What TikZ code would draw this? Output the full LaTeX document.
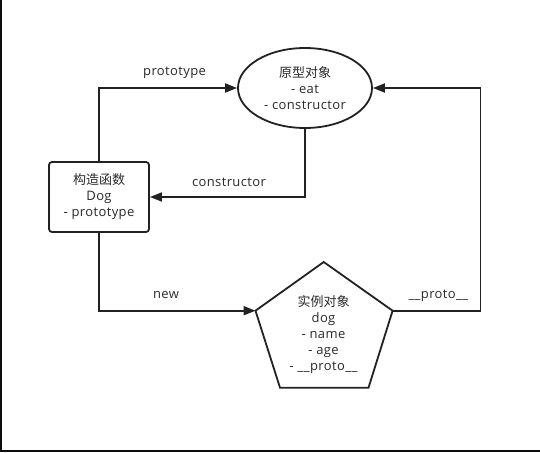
\documentclass[tikz,border=0pt]{standalone}
\usepackage{fontspec}
\setmainfont{Open Sans}[LetterSpace=3]
\newfontfamily\cjk{Noto Sans CJK SC}
\usetikzlibrary{arrows.meta,shapes.geometric}
\definecolor{ink}{HTML}{222222}
\definecolor{txt}{HTML}{2a2a2a}
\tikzset{
  every node/.style={font=\fontsize{13}{16}\selectfont, text=txt},
  shapeline/.style={draw=ink, line width=1.8pt},
  conn/.style={draw=ink, line width=1.8pt, -{Triangle[length=12pt,width=9pt]}},
  lbl/.style={inner sep=0pt}
}
\begin{document}
\begin{tikzpicture}[x=1pt,y=-1pt]
\useasboundingbox (0,0) rectangle (540,452);
\fill[white] (0,0) rectangle (540,452);
\fill[black!95] (0,0) rectangle (1.5,452);
\fill[black!95] (0,449.5) rectangle (540,452);

% prototype object
\node[shapeline, ellipse, minimum width=134pt, minimum height=80pt, inner sep=0pt, align=center]
  (proto) at (305,88) {{\cjk 原型对象}\\- eat\\- constructor};

% constructor
\node[shapeline, rectangle, rounded corners=3pt, minimum width=100pt, minimum height=70pt, inner sep=0pt, align=center]
  (ctor) at (99,197) {{\cjk 构造函数}\\Dog\\- prototype};

% instance pentagon
\coordinate (pt) at (323.7,262);
\coordinate (pl) at (255.5,310.7);
\coordinate (pr) at (392.6,310.7);
\coordinate (pbr) at (368.5,387.7);
\coordinate (pbl) at (280,387.7);
\draw[shapeline, line join=miter] (pt) -- (pr) -- (pbr) -- (pbl) -- (pl) -- cycle;
\node[align=center, inner sep=0pt] (inst) at (323.5,334.7) {{\cjk 实例对象}\\dog\\- name\\- age\\- \_\_proto\_\_};

\coordinate (turn) at (480.4,310.7);

% connectors
\draw[conn] (ctor.north) |- (proto.west);
\draw[conn] (proto.south) |- (ctor.east);
\draw[conn] (ctor.south) |- (pl);
\draw[conn] (pr) -- (turn) |- (proto.east);

% labels
\node[lbl] (lproto) at (174.6,72.7) {prototype};
\node[lbl] (lctor) at (229,182.7) {constructor};
\node[lbl] (lnew) at (166,294.7) {new};
\node[lbl] (l__) at (438.4,295.7) {\_\_proto\_\_};
\end{tikzpicture}
\end{document}
